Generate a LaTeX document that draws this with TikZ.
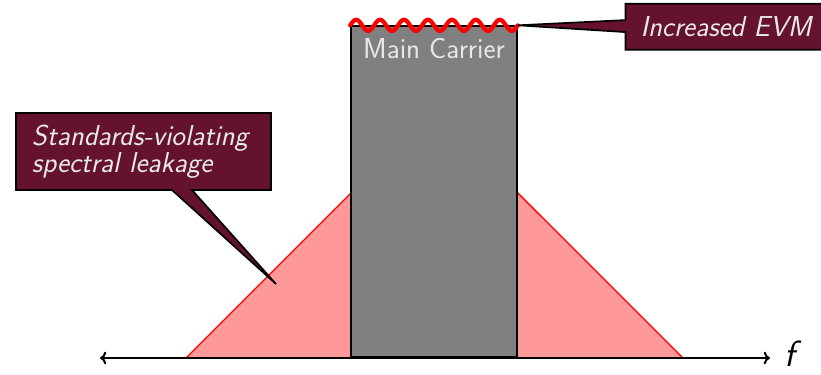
\documentclass[tikz,border=0pt]{standalone}
\usepackage{tikz}
\usetikzlibrary{shapes}
\usetikzlibrary{positioning}
\usetikzlibrary{arrows.meta}
\definecolor{boxred}{RGB}{100,18,48}
\definecolor{leakred}{RGB}{255,153,153}
\definecolor{boxtext}{RGB}{232,232,232}
\tikzset{
    axis/.style = {line width=1.4pt,draw=black,{Computer Modern Rightarrow[length=4.5pt,width=9pt]}-{Computer Modern Rightarrow[length=4.5pt,width=9pt]}},
    leak/.style = {fill=leakred,draw=red,line width=0.9pt},
    carrier/.style = {rectangle,draw=black,line width=1.2pt,fill=gray,minimum width=4.15cm,minimum height=8.275cm,inner sep=0pt},
    carriertext/.style = {text=boxtext,font=\sffamily\fontsize{20.5}{17}\selectfont},
    wave/.style = {draw=red,line width=3pt,line cap=round},
    note/.style = {rectangle callout,draw=black,line width=1.2pt,fill=boxred,text=boxtext,font=\sffamily\itshape\fontsize{20.5}{17}\selectfont},
}

\begin{document}
\begin{tikzpicture}
\useasboundingbox (0,0) rectangle (20.525,9.35);
\coordinate (axisl) at (2.5,0.4);
\coordinate (axisr) at (19.25,0.4);
%
\draw[leak] (4.65,0.4) -- (10.86,6.61) -- (17.075,0.4) -- cycle;
\node[carrier, anchor=south] at (10.85,0.4) (carrier) {};
\node[carriertext, below=0.2cm of carrier.north] (title) {Main Carrier};
\draw[wave, shift={(carrier.north west)}] plot[domain=0:4.19, samples=140, smooth] (\x, {0.14*sin(\x/4.19*7*360)});
%
\draw[axis] (axisl) -- (axisr);
\node[anchor=west, font=\sffamily\itshape\fontsize{26}{26}\selectfont, inner sep=0pt] at ([xshift=0.35cm,yshift=0.12cm]axisr) (f) {f};
%
\node[note, minimum height=1.15cm, inner xsep=0.375cm, callout pointer width=0.3cm,
      callout absolute pointer={(carrier.north east)}] at (18.15,8.68) (evm) {Increased EVM};
\node[note, minimum height=1.925cm, inner xsep=0.4cm, text width=5.575cm, align=left,
      callout pointer width=0.5cm, callout absolute pointer={(6.9,2.25)}] at (3.5875,5.5625) (leakage)
      {Standards-violating\\spectral leakage};
\end{tikzpicture}
\end{document}
